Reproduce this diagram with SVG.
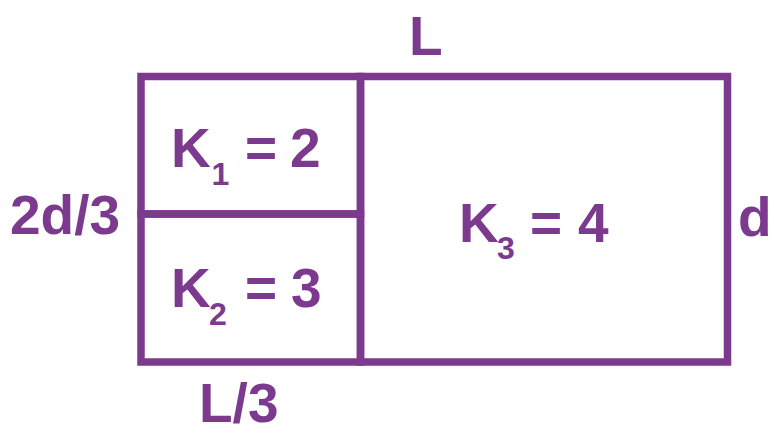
<svg xmlns="http://www.w3.org/2000/svg" width="774" height="427" viewBox="0 0 774 427">
<style>
.cell{fill:none;stroke:#7c3a8f;stroke-width:7.5;stroke-linejoin:miter;stroke-linecap:square}
text{font-family:"Liberation Sans",Arial,sans-serif;font-weight:bold;fill:#7c3a8f;font-size:55px}
.sub{font-size:32px}
</style>
<rect width="774" height="427" fill="#fff"/>
<g id="cell-k3">
<rect class="cell" x="360.5" y="76.5" width="367" height="285.5"/>
<text><tspan x="459" y="242">K</tspan><tspan class="sub" x="497" y="259">3</tspan><tspan x="530" y="242">=</tspan><tspan x="578" y="242">4</tspan></text>
</g>
<g id="cell-k1">
<rect class="cell" x="141" y="76.5" width="219.5" height="137.5"/>
<text><tspan x="171" y="167">K</tspan><tspan class="sub" x="211.5" y="185">1</tspan><tspan x="245" y="167">=</tspan><tspan x="290" y="167">2</tspan></text>
</g>
<g id="cell-k2">
<rect class="cell" x="141" y="214" width="219.5" height="148"/>
<text><tspan x="171" y="307">K</tspan><tspan class="sub" x="209" y="325">2</tspan><tspan x="245" y="307">=</tspan><tspan x="291" y="307">3</tspan></text>
</g>
<g id="connectors"></g>
<g id="labels">
<text x="409" y="55">L</text>
<text x="10" y="234">2d/3</text>
<text x="738" y="236">d</text>
<text x="199" y="422">L/3</text>
</g>
</svg>
